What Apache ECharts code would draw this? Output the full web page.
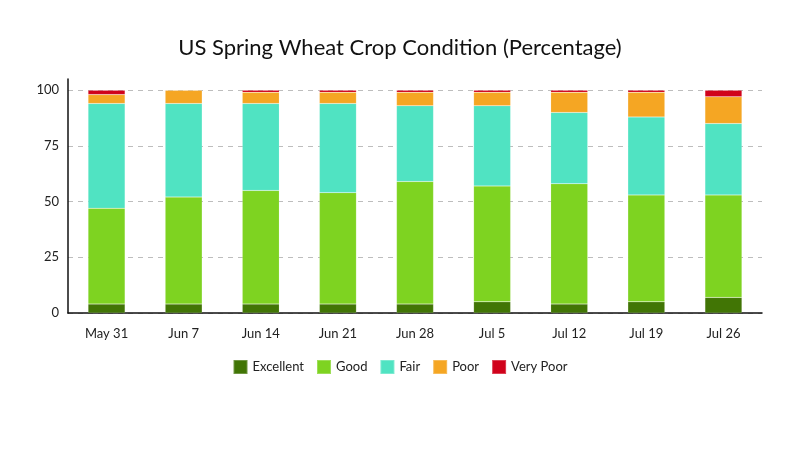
<!DOCTYPE html>
<html>
<head>
<meta charset="utf-8">
<title>US Spring Wheat Crop Condition</title>
<script src="https://cdn.jsdelivr.net/npm/echarts@6/dist/echarts.min.js"></script>
<style>
	html, body {margin: 0; padding: 0; background: #fff;}
	#chart {width: 800px; height: 450px;}
</style>
</head>
<body>
<div id="chart"></div>
<script>
const weeks = ['May 31', 'Jun 7', 'Jun 14', 'Jun 21', 'Jun 28', 'Jul 5', 'Jul 12', 'Jul 19', 'Jul 26']

const excellent = [4, 4, 4, 4, 4, 5, 4, 5, 7]
const good = [43, 48, 51, 50, 55, 52, 54, 48, 46]
const fair = [47, 42, 39, 40, 34, 36, 32, 35, 32]
const poor = [4, 6, 5, 5, 6, 6, 9, 11, 12]
const veryPoor = [2, 0, 1, 1, 1, 1, 1, 1, 3]

const yTicks = [0, 25, 50, 75, 100]

const seriesList = [
	{name: 'Excellent', data: excellent, color: '#417505'},
	{name: 'Good', data: good, color: '#7ed321'},
	{name: 'Fair', data: fair, color: '#50e3c2'},
	{name: 'Poor', data: poor, color: '#f5a623'},
	{name: 'Very Poor', data: veryPoor, color: '#d0021b'},
]

const font = 'Lato, "Open Sans", sans-serif'

const chart = echarts.init(document.getElementById('chart'))

chart.setOption({
	backgroundColor: '#fff',
	textStyle: {fontFamily: font},
	title: {
		text: 'US Spring Wheat Crop Condition (Percentage)',
		left: 'center',
		top: 32,
		textStyle: {fontFamily: font, fontSize: 22, fontWeight: 'normal', color: '#111'}
	},
	legend: {
		bottom: 70,
		left: 'center',
		icon: 'rect',
		itemWidth: 14,
		itemHeight: 14,
		itemGap: 12,
		textStyle: {fontFamily: font, fontSize: 13, color: '#222'},
		data: seriesList.map(s => s.name)
	},
	grid: {
		left: 68,
		right: 38,
		top: 79,
		bottom: 137
	},
	xAxis: {
		type: 'category',
		data: weeks,
		axisLine: {lineStyle: {color: '#111', width: 1.5}},
		axisTick: {show: false},
		axisLabel: {fontFamily: font, fontSize: 13, color: '#222', margin: 14}
	},
	yAxis: {
		type: 'value',
		min: 0,
		max: 105,
		interval: 25,
		axisLine: {show: true, lineStyle: {color: '#111', width: 1.5}},
		axisTick: {show: false},
		axisLabel: {
			fontFamily: font,
			fontSize: 13,
			color: '#222',
			margin: 9,
			formatter: v => yTicks.includes(v) ? String(v) : ''
		},
		splitLine: {
			lineStyle: {
				type: [5, 5],
				color: yTicks.map(() => '#bdbdbd').concat(['rgba(0,0,0,0)'])
			}
		}
	},
	series: seriesList.map(s => ({
		name: s.name,
		type: 'bar',
		stack: 'total',
		barWidth: 37,
		data: s.data,
		itemStyle: {color: s.color, borderColor: 'rgba(255,255,255,0.25)', borderWidth: 0.5}
	}))
})
</script>
</body>
</html>
